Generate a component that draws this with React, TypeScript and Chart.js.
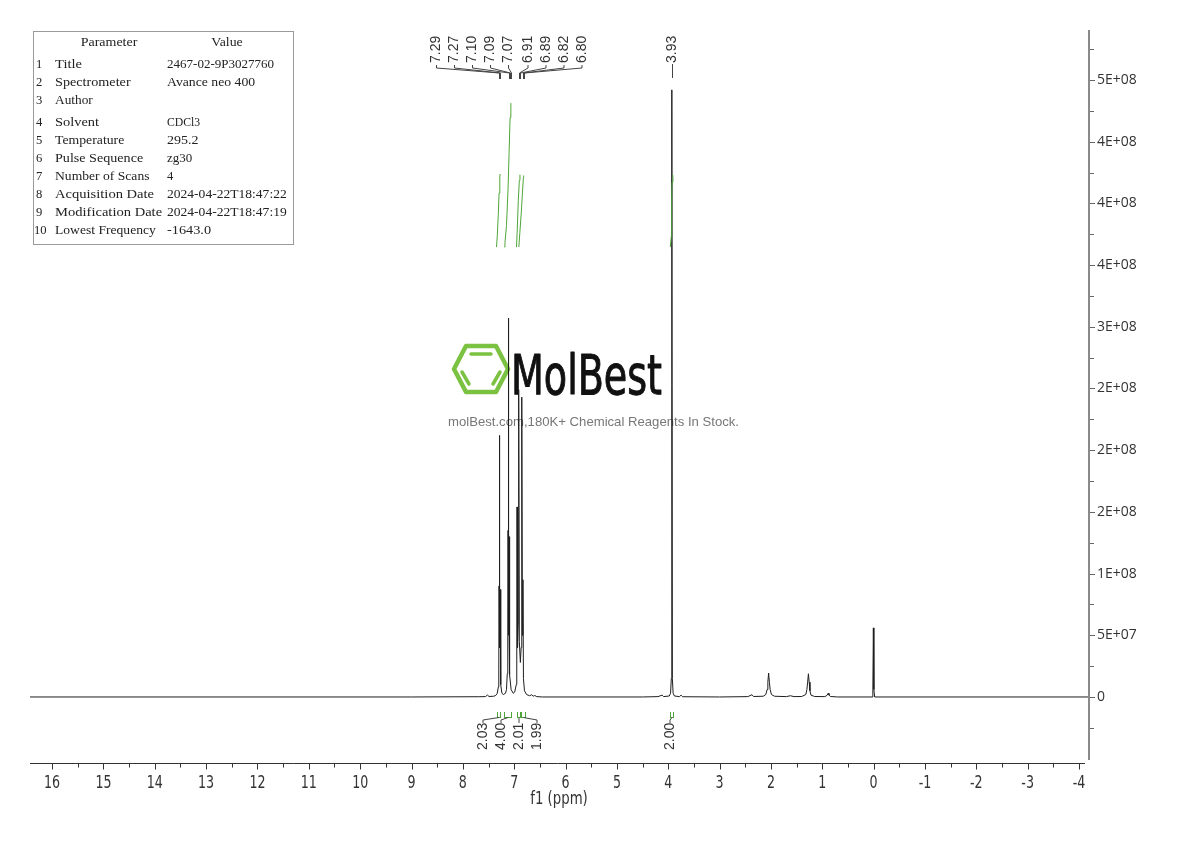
import React, { useEffect, useRef } from 'react';
import { Chart, registerables } from 'chart.js';

Chart.register(...registerables);

// ---------------- DATA ----------------
// spectrum points: [ppm, intensity (×1e6)]
const spectrumBaselineLeft: [number, number][] = [
  [16.5, 0], [9.0, 0], [7.7, 0.2], [7.56, 0.3], [7.52, 1.5], [7.49, 0.4], [7.4, 0.6],
];
const spectrumAromatic: [number, number][] = [
  [7.36, 1.2], [7.33, 3], [7.31, 8], [7.3, 22], [7.295, 90], [7.29, 212], [7.285, 88], [7.28, 40],
  [7.27, 87], [7.265, 22], [7.26, 10],
  [7.24, 3], [7.21, 2], [7.17, 3], [7.15, 6], [7.135, 19], [7.125, 60], [7.12, 135], [7.115, 50],
  [7.11, 307], [7.105, 130], [7.1, 55], [7.095, 130], [7.085, 18], [7.06, 6], [7.02, 3], [6.99, 4],
  [6.96, 10], [6.95, 30], [6.945, 154], [6.935, 40], [6.92, 60], [6.915, 110], [6.91, 249], [6.9, 45],
  [6.88, 28], [6.865, 40], [6.855, 110], [6.85, 243], [6.84, 50], [6.83, 95], [6.82, 15], [6.8, 5],
  [6.76, 2], [6.7, 1], [6.66, 1.8], [6.63, 0.6], [6.6, 1.2], [6.56, 0.3], [6.45, 0],
];
const spectrumMethoxy: [number, number][] = [
  [4.5, 0], [4.2, 0.3], [4.12, 1.5], [4.09, 0.3], [3.98, 0.8], [3.955, 3], [3.94, 15], [3.93, 492],
  [3.92, 15], [3.905, 3], [3.88, 0.8], [3.78, 0.3], [3.75, 1.5], [3.72, 0.2], [3.0, 0],
];
const spectrumAliphatic: [number, number][] = [
  [2.45, 0.3], [2.37, 1.8], [2.34, 0.4], [2.15, 0.6], [2.1, 2], [2.075, 6], [2.06, 12],
  [2.045, 19.4], [2.03, 12], [2.015, 6], [1.99, 2], [1.93, 0.6], [1.7, 0.3], [1.62, 1],
  [1.55, 0.3], [1.4, 0.4], [1.32, 2], [1.3, 6], [1.285, 12], [1.27, 18.8], [1.255, 12],
  [1.24, 5], [1.22, 1.5], [1.15, 0.4], [0.95, 0.3], [0.91, 1.2], [0.885, 3], [0.87, 1.5],
  [0.84, 0.4], [0.7, 0],
];
const spectrumTms: [number, number][] = [
  [0.03, 0], [0.015, 6], [0.005, 56], [-0.005, 6], [-0.02, 0], [-4.3, 0],
];

// integral curves: [ppm, integral value]
const integral1: [number, number][] = [[7.345, 0], [7.33, 0.3], [7.31, 0.9], [7.295, 1.5], [7.28, 1.95], [7.275, 2.03]];
const integral2: [number, number][] = [[7.19, 0], [7.18, 0.12], [7.15, 0.6], [7.12, 1.6], [7.1, 2.6], [7.08, 3.6], [7.065, 4.0]];
const integral3: [number, number][] = [[6.955, 0], [6.94, 0.5], [6.92, 1.3], [6.9, 1.85], [6.888, 2.01]];
const integral4: [number, number][] = [[6.91, 0], [6.89, 0.4], [6.86, 1.0], [6.84, 1.5], [6.82, 1.95], [6.815, 1.99]];
const integral5: [number, number][] = [[3.96, 0], [3.94, 0.3], [3.935, 0.8], [3.93, 1.4], [3.925, 1.8], [3.91, 2.0]];

const integralLabels = ['2.03', '4.00', '2.01', '1.99', '2.00'];
const integralFrom = [7.34, 7.19, 6.955, 6.87, 3.96];
const integralTo = [7.28, 7.06, 6.885, 6.79, 3.91];

const peakLabels = ['7.29', '7.27', '7.10', '7.09', '7.07', '6.91', '6.89', '6.82', '6.80', '3.93'];
const peakPpm = [7.29, 7.27, 7.1, 7.09, 7.07, 6.91, 6.89, 6.82, 6.8, 3.93];

const xTickValues = [16, 15, 14, 13, 12, 11, 10, 9, 8, 7, 6, 5, 4, 3, 2, 1, 0, -1, -2, -3, -4];
const xAxisTitle = 'f1 (ppm)';
const yTickValues = [0, 50, 100, 150, 200, 250, 300, 350, 400, 450, 500];
const yTickLabels = ['0', '5E+07', '1E+08', '2E+08', '2E+08', '2E+08', '3E+08', '4E+08', '4E+08', '4E+08', '5E+08'];

const tableNumbers = ['1', '2', '3', '4', '5', '6', '7', '8', '9', '10'];
const tableNames = ['Title', 'Spectrometer', 'Author', 'Solvent', 'Temperature', 'Pulse Sequence',
  'Number of Scans', 'Acquisition Date', 'Modification Date', 'Lowest Frequency'];
const tableValues = ['2467-02-9P3027760', 'Avance neo 400', '', 'CDCl3', '295.2', 'zg30', '4',
  '2024-04-22T18:47:22', '2024-04-22T18:47:19', '-1643.0'];

// ---------------- LAYOUT / STYLE ----------------
const SANS = "'Liberation Sans', Arial, sans-serif";
const NARROW = "'DejaVu Sans Condensed', 'DejaVu Sans', sans-serif";
const YFONT = "'Open Sans', 'Liberation Sans', sans-serif";
const SERIF = "'Liberation Serif', 'DejaVu Serif', serif";
const GREEN = '#4fa53a';
const PEAK_LABEL_X = [436.5, 454.5, 472.5, 490.5, 508.5, 528, 546, 564, 582, 672];
const INT_LABEL_X = [483, 501, 519, 537, 670];
const TABLE_ROW_Y = [65, 83, 101, 123, 141, 159, 177, 195, 213, 231];
const TABLE_CHAR_W = 6.3;

const toXY = (arr: [number, number][]) => arr.map(([x, y]) => ({ x, y }));

function drawScaledX(ctx: CanvasRenderingContext2D, text: string, x: number, y: number, sx: number) {
  ctx.save();
  ctx.translate(x, y);
  ctx.scale(sx, 1);
  ctx.fillText(text, 0, 0);
  ctx.restore();
}

function drawFitted(ctx: CanvasRenderingContext2D, text: string, x: number, y: number, width: number, lo = 0, hi = 99) {
  const w = ctx.measureText(text).width;
  const s = Math.min(hi, Math.max(lo, width / w));
  drawScaledX(ctx, text, x, y, s);
}

function drawWatermark(ctx: CanvasRenderingContext2D) {
  ctx.save();
  ctx.strokeStyle = '#7cc242';
  ctx.lineWidth = 4.5;
  ctx.lineJoin = 'round';
  ctx.lineCap = 'round';
  const pts = [[454, 369], [466, 346], [496, 346], [508, 369], [496, 392], [466, 392]];
  ctx.beginPath();
  pts.forEach(([x, y], i) => (i ? ctx.lineTo(x, y) : ctx.moveTo(x, y)));
  ctx.closePath();
  ctx.stroke();
  ctx.lineWidth = 3.5;
  ctx.beginPath();
  ctx.moveTo(471, 354); ctx.lineTo(491, 354);
  ctx.moveTo(462, 372); ctx.lineTo(469, 384);
  ctx.moveTo(500, 372); ctx.lineTo(493, 384);
  ctx.stroke();
  ctx.fillStyle = '#111';
  ctx.strokeStyle = '#111';
  ctx.lineWidth = 1;
  ctx.font = `56px ${NARROW}`;
  ctx.textBaseline = 'alphabetic';
  ctx.textAlign = 'left';
  const w = ctx.measureText('MolBest').width;
  ctx.save();
  ctx.translate(511, 394);
  ctx.scale(151 / w, 1);
  ctx.fillText('MolBest', 0, 0);
  ctx.strokeText('MolBest', 0, 0);
  ctx.restore();
  ctx.fillStyle = '#777';
  ctx.font = `13px ${SANS}`;
  drawFitted(ctx, 'molBest.com,180K+ Chemical Reagents In Stock.', 448, 426, 291);
  ctx.restore();
}

function drawTable(ctx: CanvasRenderingContext2D) {
  ctx.save();
  ctx.fillStyle = '#fff';
  ctx.fillRect(33.5, 31.5, 260, 213);
  ctx.strokeStyle = '#9a9a9a';
  ctx.lineWidth = 1;
  ctx.strokeRect(33.5, 31.5, 260, 213);
  ctx.fillStyle = '#222';
  ctx.font = `13px ${SERIF}`;
  ctx.textBaseline = 'middle';
  ctx.textAlign = 'left';
  const put = (t: string, x: number, y: number) => {
    if (t) drawFitted(ctx, t, x, y, t.length * TABLE_CHAR_W, 0.9, 1.12);
  };
  put('Parameter', 109 - 4.5 * TABLE_CHAR_W, 43);
  put('Value', 227 - 2.5 * TABLE_CHAR_W, 43);
  tableNames.forEach((name, i) => {
    const y = TABLE_ROW_Y[i];
    put(tableNumbers[i], tableNumbers[i].length > 1 ? 34 : 36, y);
    put(name, 55, y);
    put(tableValues[i], 167, y);
  });
  ctx.restore();
}

const decorPlugin = {
  id: 'decor',
  beforeDatasetsDraw(chart: any) {
    drawWatermark(chart.ctx);
  },
  afterDraw(chart: any) {
    const ctx: CanvasRenderingContext2D = chart.ctx;
    const xs = chart.scales.x;
    const ys = chart.scales.y;
    const ca = chart.chartArea;
    ctx.save();

    // x axis line + ticks + labels
    const axisY = Math.round(ca.bottom) + 0.5;
    ctx.strokeStyle = '#333';
    ctx.lineWidth = 1;
    ctx.beginPath();
    ctx.moveTo(ca.left, axisY);
    ctx.lineTo(ca.right - 3, axisY);
    xTickValues.forEach((v) => {
      const px = Math.round(xs.getPixelForValue(v)) + 0.5;
      ctx.moveTo(px, axisY);
      ctx.lineTo(px, axisY + 6);
      const mv = v + 0.5;
      if (mv <= xs.max) {
        const mx = Math.round(xs.getPixelForValue(mv)) + 0.5;
        ctx.moveTo(mx, axisY);
        ctx.lineTo(mx, axisY + 4);
      }
    });
    ctx.stroke();
    ctx.fillStyle = '#333';
    ctx.font = `18px ${NARROW}`;
    ctx.textAlign = 'center';
    ctx.textBaseline = 'middle';
    xTickValues.forEach((v) => {
      drawScaledX(ctx, String(v), xs.getPixelForValue(v), 783, 0.78);
    });
    drawScaledX(ctx, xAxisTitle, (ca.left + ca.right) / 2, 799, 0.82);

    // y axis line + ticks
    const axisX = Math.round(ca.right) + 1;
    ctx.strokeStyle = '#8a8a8a';
    ctx.lineWidth = 2;
    ctx.beginPath();
    ctx.moveTo(axisX, ca.top);
    ctx.lineTo(axisX, ca.bottom - 3);
    ctx.stroke();
    ctx.lineWidth = 1;
    ctx.strokeStyle = '#666';
    ctx.beginPath();
    yTickValues.forEach((v, i) => {
      const py = Math.round(ys.getPixelForValue(v)) + 0.5;
      ctx.moveTo(axisX + 1, py);
      ctx.lineTo(axisX + 6, py);
      const step = i < yTickValues.length - 1 ? yTickValues[i + 1] - v : v - yTickValues[i - 1];
      [v - step / 2, v + step / 2].forEach((m) => {
        if ((i === 0 || m > v) && m > ys.min && m < ys.max) {
          const my = Math.round(ys.getPixelForValue(m)) + 0.5;
          ctx.moveTo(axisX + 1, my);
          ctx.lineTo(axisX + 5, my);
        }
      });
    });
    ctx.stroke();

    // peak labels
    ctx.font = `14px ${SANS}`;
    ctx.fillStyle = '#333';
    ctx.strokeStyle = '#444';
    ctx.lineWidth = 1;
    peakLabels.forEach((t, i) => {
      const lx = PEAK_LABEL_X[i];
      const px = Math.round(xs.getPixelForValue(peakPpm[i])) + 0.5;
      ctx.save();
      ctx.translate(lx, 63);
      ctx.rotate(-Math.PI / 2);
      ctx.textAlign = 'left';
      ctx.textBaseline = 'middle';
      ctx.fillText(t, 0, 0);
      ctx.restore();
      ctx.beginPath();
      if (Math.abs(lx - px) < 2) {
        ctx.moveTo(px, 64);
        ctx.lineTo(px, 78);
      } else {
        ctx.moveTo(lx, 65);
        ctx.lineTo(lx, 68);
        ctx.lineTo(px, 73);
        ctx.lineTo(px, 79);
      }
      ctx.stroke();
    });

    // integral labels & marks
    integralLabels.forEach((t, i) => {
      const x1 = Math.round(xs.getPixelForValue(integralFrom[i])) + 0.5;
      const x2 = Math.round(xs.getPixelForValue(integralTo[i])) + 0.5;
      const rx = (x1 + x2) / 2;
      ctx.strokeStyle = GREEN;
      ctx.beginPath();
      ctx.moveTo(x1, 712); ctx.lineTo(x1, 718);
      ctx.moveTo(x2, 712); ctx.lineTo(x2, 718);
      ctx.moveTo(x1, 717.5); ctx.lineTo(x2, 717.5);
      ctx.stroke();
      const lx = INT_LABEL_X[i];
      ctx.strokeStyle = '#444';
      ctx.beginPath();
      if (Math.abs(lx - rx) < 2) {
        ctx.moveTo(rx, 718); ctx.lineTo(rx, 723);
      } else {
        ctx.moveTo(lx, 723); ctx.lineTo(lx, 720); ctx.lineTo(rx, 717.5);
      }
      ctx.stroke();
      ctx.save();
      ctx.translate(lx, 750);
      ctx.rotate(-Math.PI / 2);
      ctx.textAlign = 'left';
      ctx.textBaseline = 'middle';
      ctx.fillStyle = '#333';
      ctx.fillText(t, 0, 0);
      ctx.restore();
    });

    drawTable(ctx);
    ctx.restore();
  },
};

export default function App() {
  const ref = useRef<HTMLCanvasElement | null>(null);
  useEffect(() => {
    if (!ref.current) return;
    const spectrum = [
      ...spectrumBaselineLeft, ...spectrumAromatic, ...spectrumMethoxy, ...spectrumAliphatic, ...spectrumTms,
    ];
    const integralDs = [integral1, integral2, integral3, integral4, integral5].map((d) => ({
      data: toXY(d),
      yAxisID: 'yInt',
      borderColor: GREEN,
      borderWidth: 1,
      pointRadius: 0,
      tension: 0,
      order: 1,
    }));
    const chart = new Chart(ref.current, {
      type: 'line',
      data: {
        datasets: [
          {
            data: toXY(spectrum),
            yAxisID: 'y',
            borderColor: '#1e1e1e',
            borderWidth: 1,
            pointRadius: 0,
            tension: 0,
            order: 2,
          },
          ...integralDs,
        ],
      },
      options: {
        animation: false,
        responsive: false,
        maintainAspectRatio: false,
        events: [],
        layout: { padding: { top: 30, left: 30, right: 0, bottom: 0 } },
        plugins: { legend: { display: false }, tooltip: { enabled: false } },
        scales: {
          x: {
            type: 'linear',
            reverse: true,
            min: -4.175,
            max: 16.43,
            position: 'bottom',
            afterBuildTicks: (s: any) => {
              s.ticks = xTickValues.map((v) => ({ value: v }));
            },
            afterFit: (s: any) => {
              s.height = 78;
            },
            grid: { display: false, drawTicks: false },
            border: { display: false },
            ticks: { display: false },
          },
          y: {
            type: 'linear',
            position: 'right',
            min: -53.5,
            max: 540.5,
            afterBuildTicks: (s: any) => {
              s.ticks = yTickValues.map((v) => ({ value: v }));
            },
            afterFit: (s: any) => {
              s.width = 102;
            },
            grid: { display: false, drawTicks: false },
            border: { display: false },
            ticks: {
              padding: 9,
              color: '#333',
              font: { family: YFONT, size: 14 },
              callback: (_v: any, i: number) => yTickLabels[i],
            },
          },
          yInt: {
            type: 'linear',
            display: false,
            min: -14.33,
            max: 6.03,
          },
        },
      } as any,
      plugins: [decorPlugin],
    });
    return () => chart.destroy();
  }, []);

  return (
    <div style={{ position: 'absolute', left: 0, top: 0, width: 1190, height: 841, background: '#fff' }}>
      <canvas ref={ref} width={1190} height={841} />
    </div>
  );
}
